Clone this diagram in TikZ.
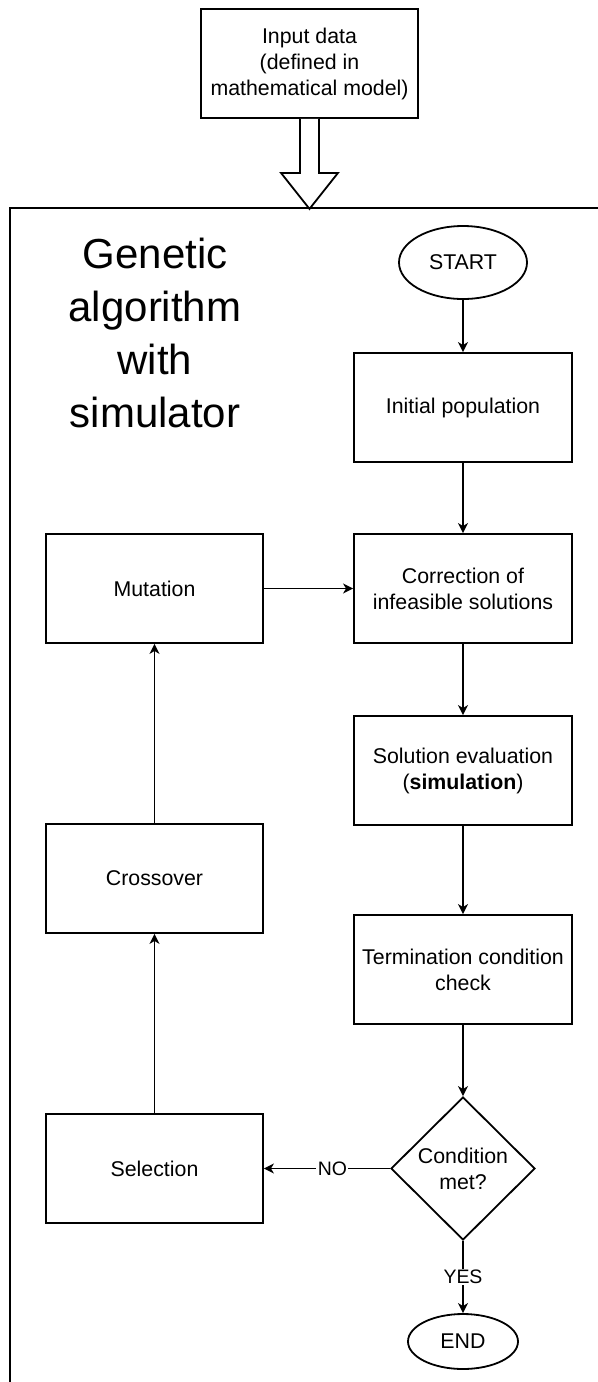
\documentclass[tikz,border=0pt]{standalone}
\usepackage{fontspec}
\setmainfont{Liberation Sans}
\usetikzlibrary{shapes.geometric,arrows.meta}
\tikzset{
  lw/.style={line width=1.35pt, draw=black},
  box/.style={lw, rectangle, inner sep=0pt, align=center,
    minimum width=0.75*218pt, minimum height=0.75*109pt,
    font=\fontsize{16}{19.5}\selectfont},
  lbox/.style={box, minimum width=0.75*217pt},
  oval/.style={lw, ellipse, inner sep=0pt, align=center,
    font=\fontsize{16}{19.5}\selectfont},
  decision/.style={lw, diamond, inner sep=0pt, align=center,
    minimum width=0.75*144pt, minimum height=0.75*143pt,
    font=\fontsize{16}{19.5}\selectfont},
  titletext/.style={align=center, inner sep=0pt,
    font=\fontsize{31.5}{39.75}\selectfont},
  arr/.style={lw, -{Stealth[length=7.5pt,width=7.5pt,inset=2.2pt]}},
  lbl/.style={fill=white, inner sep=1pt, font=\fontsize{14.6}{17}\selectfont}
}
\begin{document}
\begin{tikzpicture}[x=0.75pt,y=-0.75pt]
\useasboundingbox (0,0) rectangle (598,1382);
\clip (0,0) rectangle (598,1382);
% container frame
\draw[lw] (10,1400) -- (10,208) -- (620,208);
% input
\node[lbox] (input) at (309.5,63.5) {Input data\\(defined in\\mathematical model)};
% hollow arrow
\draw[lw, fill=white, line join=miter] (input.south) ++(-9.5,0) -- ++(0,54) -- ++(-19,0)
  -- ++(28.5,36) -- ++(28.5,-36) -- ++(-19,0) -- ++(0,-54);
% title
\node[titletext] (title) at (155,333) {Genetic\\algorithm\\with\\simulator};
% right column
\node[oval, minimum width=0.75*128pt, minimum height=0.75*73pt] (start) at (463,262.5) {START};
\node[box] (init) at (463,407.5) {Initial population};
\node[box] (corr) at (463,588.5) {Correction of\\infeasible solutions};
\node[box] (eval) at (463,770.5) {Solution evaluation\\(\textbf{simulation})};
\node[box] (term) at (463,969.5) {Termination condition\\check};
\node[decision] (cond) at (463,1168.5) {Condition\\met?};
\node[oval, minimum width=0.75*110pt, minimum height=0.75*55pt] (end) at (463,1341.5) {END};
% left column
\node[lbox] (mut) at (154.5,588.5) {Mutation};
\node[lbox] (cross) at (154.5,878.5) {Crossover};
\node[lbox] (sel) at (154.5,1168.5) {Selection};
% connectors
\draw[arr] (start) -- (init);
\draw[arr] (init) -- (corr);
\draw[arr] (corr) -- (eval);
\draw[arr] (eval) -- (term);
\draw[arr] (term) -- (cond);
\draw[arr] (cond) -- node[lbl, pos=0.457] {NO} (sel);
\draw[arr] (cond) -- node[lbl, pos=0.5] {YES} (end);
\draw[arr] (sel) -- (cross);
\draw[arr] (cross) -- (mut);
\draw[arr] (mut) -- (corr);
\end{tikzpicture}
\end{document}
